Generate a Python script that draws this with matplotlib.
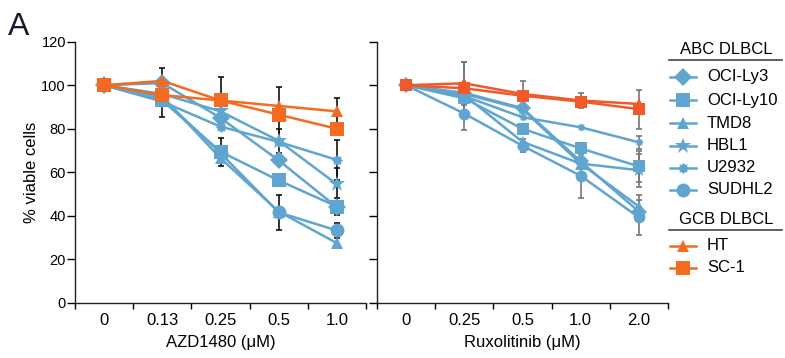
import matplotlib
matplotlib.use("Agg")
import matplotlib.pyplot as plt
import numpy as np

plt.rcParams['font.family'] = ['Liberation Sans', 'DejaVu Sans']

# ---------------- data ----------------
cell_lines = ["OCI-Ly3", "OCI-Ly10", "TMD8", "HBL1", "U2932", "SUDHL2", "HT", "SC-1"]
groups = ["ABC DLBCL"] * 6 + ["GCB DLBCL"] * 2

azd_doses = ["0", "0.13", "0.25", "0.5", "1.0"]
rux_doses = ["0", "0.25", "0.5", "1.0", "2.0"]

azd_vals = {
    "OCI-Ly3":  [100, 101.0, 85.0, 65.5, 44.0],
    "OCI-Ly10": [100, 93.0, 69.5, 56.3, 44.3],
    "TMD8":     [100, 95.0, 66.5, 42.0, 27.5],
    "HBL1":     [100, 96.0, 88.0, 74.5, 54.5],
    "U2932":    [100, 92.5, 81.0, 74.0, 65.7],
    "SUDHL2":   [100, 94.0, 68.8, 41.6, 33.3],
    "HT":       [100, 102.0, 93.0, 90.5, 88.0],
    "SC-1":     [100, 95.5, 93.0, 86.5, 80.0],
}
azd_err = {
    "OCI-Ly3":  [0, 7.0, 0, 0, 0],
    "OCI-Ly10": [0, 7.5, 6.5, 0, 4.0],
    "TMD8":     [0, 0, 0, 0, 0],
    "HBL1":     [0, 0, 0, 5.5, 7.5],
    "U2932":    [0, 0, 0, 0, 9.0],
    "SUDHL2":   [0, 0, 0, 8.0, 3.5],
    "HT":       [0, 0, 0, 0, 6.0],
    "SC-1":     [0, 0, 11.0, 12.5, 0],
}

rux_vals = {
    "OCI-Ly3":  [100, 96.5, 89.5, 65.0, 42.0],
    "OCI-Ly10": [100, 94.0, 80.0, 71.0, 62.7],
    "TMD8":     [100, 95.5, 74.0, 64.0, 44.3],
    "HBL1":     [100, 96.0, 89.0, 64.0, 61.0],
    "U2932":    [100, 95.0, 85.3, 80.7, 73.8],
    "SUDHL2":   [100, 87.0, 72.2, 58.4, 39.3],
    "HT":       [100, 100.9, 96.0, 93.0, 91.4],
    "SC-1":     [100, 98.6, 95.2, 92.5, 89.0],
}
rux_err = {
    "OCI-Ly3":  [0, 0, 0, 0, 0],
    "OCI-Ly10": [0, 0, 0, 0, 7.0],
    "TMD8":     [0, 0, 0, 0, 5.5],
    "HBL1":     [0, 0, 0, 0, 7.5],
    "U2932":    [0, 0, 0, 0, 3.0],
    "SUDHL2":   [0, 7.5, 3.0, 10.0, 8.0],
    "HT":       [0, 10.0, 6.0, 3.5, 0],
    "SC-1":     [0, 12.0, 0, 0, 9.0],
}

# ---------------- styles ----------------
BLUE = "#5FA5CF"
OR_L = "#F26B21"
OR_R = "#F05A28"

# cog-like marker for U2932
_n = 16
_ang = np.linspace(0, 2 * np.pi, _n, endpoint=False)
_rad = np.where(np.arange(_n) % 2 == 0, 1.0, 0.72)
cog = np.column_stack([_rad * np.cos(_ang), _rad * np.sin(_ang)])
cog = np.vstack([cog, cog[:1]])

markers = {"OCI-Ly3": "D", "OCI-Ly10": "s", "TMD8": "^", "HBL1": "*",
           "U2932": cog, "SUDHL2": "o", "HT": "^", "SC-1": "s"}
msize_l = {"OCI-Ly3": 9.5, "OCI-Ly10": 10.5, "TMD8": 9, "HBL1": 12,
           "U2932": 8, "SUDHL2": 10, "HT": 9, "SC-1": 10.5}
msize_r = {"OCI-Ly3": 8, "OCI-Ly10": 8.5, "TMD8": 8, "HBL1": 10,
           "U2932": 6, "SUDHL2": 8.5, "HT": 8, "SC-1": 9}

FS = 12
FSY = 10.5

fig = plt.figure(figsize=(7.85, 3.58), dpi=100)
W, H = 785, 358

def px_axes(x0, x1, y0, y1):
    return fig.add_axes([x0 / W, 1 - y1 / H, (x1 - x0) / W, (y1 - y0) / H])

axL = px_axes(75, 366, 41.7, 303)
axR = px_axes(377, 668, 41.7, 303)

def draw(ax, doses, vals, errs, orange, errcol, msz):
    x = np.arange(len(doses)) + 0.5
    order = ["HT", "SC-1", "SUDHL2", "TMD8", "OCI-Ly10", "OCI-Ly3", "U2932", "HBL1"]
    for name in order:
        y = np.array(vals[name])
        e = np.array(errs[name])
        mask = e > 0
        if mask.any():
            ax.errorbar(x[mask], y[mask], yerr=e[mask], fmt="none", ecolor=errcol,
                        elinewidth=1.2, capsize=2.2, capthick=1.2, zorder=2)
    for name in order:
        col = orange if name in ("HT", "SC-1") else BLUE
        ax.plot(x, vals[name], color=col, lw=1.8, marker=markers[name],
                markersize=msz[name], markeredgewidth=0, zorder=3 if col == BLUE else 4)
    ax.set_xlim(0, len(doses))
    ax.set_ylim(0, 120)
    ax.set_xticks(np.arange(len(doses) + 1))
    ax.set_xticklabels([])
    ax.set_xticks(x, minor=True)
    ax.set_xticklabels(doses, minor=True)
    ax.tick_params(axis="x", which="minor", length=0, pad=7, labelsize=FS)
    ax.tick_params(axis="x", which="major", length=4, width=1, direction="out")
    ax.set_yticks(np.arange(0, 121, 20))
    ax.tick_params(axis="y", length=5.5, width=1, direction="out", labelsize=FSY, pad=1)
    for s in ("top", "right"):
        ax.spines[s].set_visible(False)
    for s in ("left", "bottom"):
        ax.spines[s].set_linewidth(1.0)
        ax.spines[s].set_color("#222222")

draw(axL, azd_doses, azd_vals, azd_err, OR_L, "#111111", msize_l)
draw(axR, rux_doses, rux_vals, rux_err, OR_R, "#777777", msize_r)
axR.set_yticklabels([])

axL.set_xlabel("AZD1480 (\u03bcM)", fontsize=FS, labelpad=5)
axR.set_xlabel("Ruxolitinib (\u03bcM)", fontsize=FS, labelpad=5)
axL.set_ylabel("% viable cells", fontsize=FS, labelpad=2)

fig.text(8 / W, 1 - 35 / H, "A", fontsize=23, color="#1a1a2e")

# ---------------- legend ----------------
lg = fig.add_axes([0, 0, 1, 1])
lg.set_xlim(0, W)
lg.set_ylim(H, 0)
lg.axis("off")

def header(text, y):
    lg.text(726, y, text, ha="center", va="center", fontsize=FS)
    lg.plot([669, 782], [y + 10, y + 10], color="#444444", lw=1.2)

header("ABC DLBCL", 50)
abc_rows = [77, 100, 123, 146, 168, 190]
for name, yy in zip([n for n, g in zip(cell_lines, groups) if g == "ABC DLBCL"], abc_rows):
    lg.plot([670, 696], [yy, yy], color=BLUE, lw=1.8)
    lg.plot([683], [yy], color=BLUE, marker=markers[name], markersize=msize_l[name], markeredgewidth=0)
    lg.text(707, yy, name, va="center", ha="left", fontsize=FS)
header("GCB DLBCL", 220)
gcb_rows = [246, 268]
for name, yy in zip([n for n, g in zip(cell_lines, groups) if g == "GCB DLBCL"], gcb_rows):
    lg.plot([670, 696], [yy, yy], color=OR_L, lw=1.8)
    lg.plot([683], [yy], color=OR_L, marker=markers[name], markersize=msize_l[name], markeredgewidth=0)
    lg.text(707, yy, name, va="center", ha="left", fontsize=FS)

fig.savefig("out.png", dpi=100)
